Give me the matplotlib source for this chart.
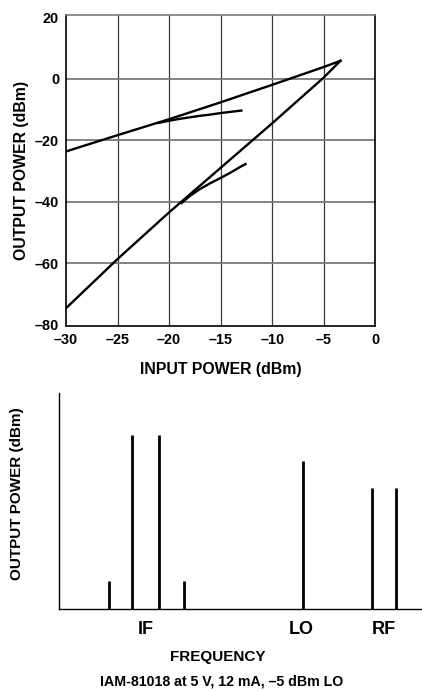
import matplotlib.pyplot as plt

plt.rcParams['font.family'] = ['Liberation Sans', 'DejaVu Sans']
plt.rcParams['font.weight'] = 'bold'

# Top chart: output power vs input power (dBm)
fund_in = [-30, -25, -20, -15, -10, -5, -3.4]
fund_out = [-23.6, -18.3, -13.1, -7.6, -1.9, 3.9, 5.9]
im3_in = [-3.4, -5, -10, -15, -20, -25, -30]
im3_out = [5.9, 0.5, -14.4, -28.9, -43.4, -58.6, -74.6]
meas_fund_in = [-21, -20, -19, -18, -17, -16, -15, -14, -13]
meas_fund_out = [-14.3, -13.6, -13.0, -12.5, -12.0, -11.6, -11.1, -10.7, -10.3]
meas_im3_in = [-18.8, -18, -17, -16, -15, -14, -13, -12.6]
meas_im3_out = [-40.4, -38.1, -35.8, -33.9, -32.2, -30.4, -28.4, -27.7]
x_ticks = [-30, -25, -20, -15, -10, -5, 0]
y_ticks = [-80, -60, -40, -20, 0, 20]

# Bottom chart: output spectrum (relative units)
spec_freq = [13.8, 20.2, 27.6, 34.5, 67.3, 86.5, 93.0]
spec_level = [12.8, 80.6, 80.6, 12.8, 68.7, 55.9, 55.9]
band_labels = ['IF', 'LO', 'RF']
band_pos = [24.0, 67.0, 89.8]

fig = plt.figure(figsize=(4.22, 6.91), dpi=100)

# Creating the top axis
ax1 = fig.add_axes([0.1564, 0.5282, 0.7334, 0.4501])
ax1.plot(fund_in, fund_out, color='black', lw=1.7, solid_joinstyle='miter')
ax1.plot(im3_in, im3_out, color='black', lw=1.7)
ax1.plot(meas_fund_in, meas_fund_out, color='black', lw=1.7)
ax1.plot(meas_im3_in, meas_im3_out, color='black', lw=1.7)
ax1.set_xlim(-30, 0)
ax1.set_ylim(-80.4, 20.8)
ax1.set_xticks(x_ticks)
ax1.set_yticks(y_ticks)
ax1.set_xticklabels([('–%d' % -v) if v < 0 else str(v) for v in x_ticks])
ax1.set_yticklabels([('–%d' % -v) if v < 0 else str(v) for v in y_ticks])
ax1.tick_params(length=0, pad=5, labelsize=10.4)
for v in x_ticks[1:-1]:
    ax1.axvline(v, color='#3a3a3a', lw=0.9, zorder=0)
for v in y_ticks[1:-1]:
    ax1.axhline(v, color='#7a7a7a', lw=1.3, zorder=0)
ax1.spines['top'].set_color('#7a7a7a')
for s in ax1.spines.values():
    s.set_linewidth(1.2)
ax1.set_xlabel('INPUT POWER (dBm)', fontsize=11.4, fontweight='bold', labelpad=10.5)
ax1.set_ylabel('OUTPUT POWER (dBm)', fontsize=11.4, fontweight='bold', labelpad=4)

# Creating the bottom axis
ax2 = fig.add_axes([0.1405, 0.1187, 0.857, 0.3126])
ax2.vlines(spec_freq, 0, spec_level, color='black', lw=2.0)
ax2.set_xlim(0, 100)
ax2.set_ylim(0, 100)
ax2.set_yticks([])
ax2.set_xticks(band_pos)
ax2.set_xticklabels(band_labels)
ax2.tick_params(length=0, pad=9, labelsize=13)
ax2.spines['top'].set_visible(False)
ax2.spines['right'].set_visible(False)
ax2.spines['left'].set_linewidth(1.0)
ax2.spines['bottom'].set_linewidth(1.0)
ax2.set_ylabel('OUTPUT POWER (dBm)', fontsize=11, fontweight='bold')
ax2.yaxis.set_label_coords(-0.098, 0.535)

fig.text(218 / 422, 1 - 657 / 691, 'FREQUENCY', ha='center', va='center', fontsize=11, fontweight='bold')
fig.text(222 / 422, 1 - 682 / 691, 'IAM-81018 at 5 V, 12 mA, –5 dBm LO', ha='center', va='center', fontsize=10.2, fontweight='bold')

plt.savefig('out.png', dpi=100)
plt.close()
